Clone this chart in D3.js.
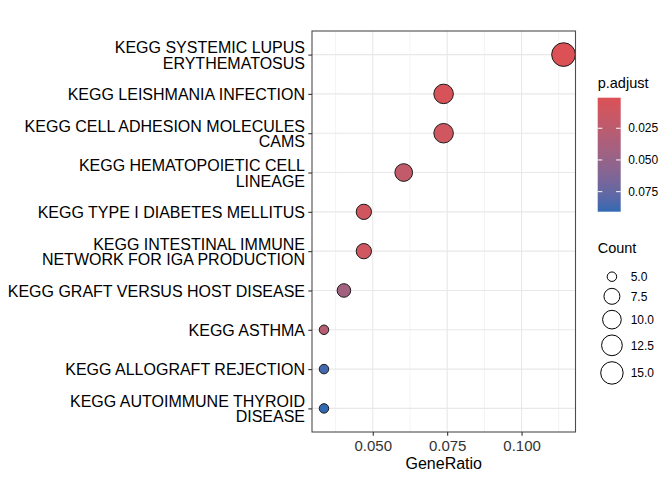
<!DOCTYPE html>
<html>
<head>
<meta charset="utf-8">
<script src="https://cdn.jsdelivr.net/npm/d3@7"></script>
<style>
  body { margin: 0; background: #fff; }
  svg { font-family: "Liberation Sans", Arial, sans-serif; }
</style>
</head>
<body>
<svg id="chart" width="672" height="480"></svg>
<script>
// pathway labels, top to bottom ("\n" = line break in the label)
const pathways = [
  "KEGG SYSTEMIC LUPUS\nERYTHEMATOSUS",
  "KEGG LEISHMANIA INFECTION",
  "KEGG CELL ADHESION MOLECULES\nCAMS",
  "KEGG HEMATOPOIETIC CELL\nLINEAGE",
  "KEGG TYPE I DIABETES MELLITUS",
  "KEGG INTESTINAL IMMUNE\nNETWORK FOR IGA PRODUCTION",
  "KEGG GRAFT VERSUS HOST DISEASE",
  "KEGG ASTHMA",
  "KEGG ALLOGRAFT REJECTION",
  "KEGG AUTOIMMUNE THYROID\nDISEASE"
];
const geneRatio = [0.1141, 0.0738, 0.0738, 0.0604, 0.0470, 0.0470, 0.0403, 0.0336, 0.0336, 0.0336];
const counts = [17, 11, 11, 9, 7, 7, 6, 5, 5, 5];
const pAdjust = [0.0009, 0.004, 0.010, 0.020, 0.009, 0.010, 0.042, 0.028, 0.087, 0.0908];

const xTicks = [0.050, 0.075, 0.100];
const colorTicks = [0.025, 0.050, 0.075];
const sizeBreaks = [5.0, 7.5, 10.0, 12.5, 15.0];

const width = 672;
const height = 480;
const panel = { left: 312, right: 575.5, top: 31, bottom: 432 };
const lowColor = "#dc5156";
const highColor = "#3169b3";

const data = pathways.map((p, i) => ({
  label: p, ratio: geneRatio[i], count: counts[i], p: pAdjust[i]
}));

const svg = d3.select("#chart");

// scales (5% expansion on x like ggplot)
const xExt = d3.extent(geneRatio);
const xPad = (xExt[1] - xExt[0]) * 0.05;
const xScale = d3.scaleLinear()
  .domain([xExt[0] - xPad, xExt[1] + xPad])
  .range([panel.left, panel.right]);
const yScale = d3.scalePoint()
  .domain(pathways)
  .range([panel.top, panel.bottom])
  .padding(0.6);
const color = d3.scaleLinear()
  .domain(d3.extent(pAdjust))
  .range([lowColor, highColor])
  .interpolate(d3.interpolateLab);
// area-style size scale: size = 3 + sqrt(rescaled) * 5, then ggplot pt -> px radius
const countExt = d3.extent(counts);
const rescale = d3.scaleLinear().domain(countExt).range([0, 1]);
const sizeScale = d3.scaleSqrt().domain([0, 1]).range([3, 8]);
const radius = c => (sizeScale(rescale(c)) * 2.845 + 0.945) * (96 / 72) * 0.375;

// grid
const grid = svg.append("g");
const step = xTicks[1] - xTicks[0];
const minor = [xTicks[0] - step / 2].concat(xTicks.map(t => t + step / 2))
  .filter(v => v > xScale.domain()[0] && v < xScale.domain()[1]);
grid.selectAll(".minor").data(minor).join("line")
  .attr("x1", d => xScale(d)).attr("x2", d => xScale(d))
  .attr("y1", panel.top).attr("y2", panel.bottom)
  .attr("stroke", "#f0f0f0").attr("stroke-width", 0.8);
grid.selectAll(".majx").data(xTicks).join("line")
  .attr("x1", d => xScale(d)).attr("x2", d => xScale(d))
  .attr("y1", panel.top).attr("y2", panel.bottom)
  .attr("stroke", "#e8e8e8").attr("stroke-width", 1.1);
grid.selectAll(".majy").data(pathways).join("line")
  .attr("x1", panel.left).attr("x2", panel.right)
  .attr("y1", d => yScale(d)).attr("y2", d => yScale(d))
  .attr("stroke", "#e8e8e8").attr("stroke-width", 1.1);

// points
svg.append("g").selectAll("circle").data(data).join("circle")
  .attr("cx", d => xScale(d.ratio))
  .attr("cy", d => yScale(d.label))
  .attr("r", d => radius(d.count))
  .attr("fill", d => color(d.p))
  .attr("stroke", "#1a1a1a")
  .attr("stroke-width", 1);

// panel border
svg.append("rect")
  .attr("x", panel.left).attr("y", panel.top)
  .attr("width", panel.right - panel.left).attr("height", panel.bottom - panel.top)
  .attr("fill", "none").attr("stroke", "#4d4d4d").attr("stroke-width", 1.1);

// x axis
const xAxis = d3.axisBottom(xScale).tickValues(xTicks).tickFormat(d3.format(".3f"))
  .tickSize(3.7).tickPadding(3);
const gx = svg.append("g").attr("transform", `translate(0,${panel.bottom})`).call(xAxis);
gx.select(".domain").remove();
gx.selectAll(".tick line").attr("stroke", "#333").attr("stroke-width", 1.1);
gx.selectAll(".tick text").attr("font-size", 15).attr("fill", "#333")
  .attr("font-family", "Liberation Sans, Arial, sans-serif")
  .attr("dy", null).attr("y", 18.7);

// y axis with multi-line labels
const yAxis = d3.axisLeft(yScale).tickSize(3.7).tickFormat("");
const gy = svg.append("g").attr("transform", `translate(${panel.left},0)`).call(yAxis);
gy.select(".domain").remove();
gy.selectAll(".tick line").attr("stroke", "#333").attr("stroke-width", 1.1);
const lineH = 15.7;
gy.selectAll(".tick").each(function(d) {
  const lines = d.split("\n");
  const t = d3.select(this).select("text")
    .attr("x", -7).attr("dy", null).attr("y", 0)
    .attr("font-size", 16).attr("fill", "#000")
    .attr("font-family", "Liberation Sans, Arial, sans-serif")
    .attr("text-anchor", "end");
  lines.forEach((ln, i) => {
    t.append("tspan").attr("x", -7)
      .attr("y", (i - (lines.length - 1) / 2) * lineH + 5.7)
      .text(ln);
  });
});

// x title
svg.append("text")
  .attr("x", (panel.left + panel.right) / 2).attr("y", 469.3)
  .attr("text-anchor", "middle").attr("font-size", 16).attr("fill", "#000")
  .text("GeneRatio");

// colour legend
const legX = 597.7;
const bar = { top: 97.7, bottom: 211.7, w: 23 };
svg.append("text").attr("x", legX).attr("y", 88.3)
  .attr("font-size", 14.5).attr("fill", "#000").text("p.adjust");
const defs = svg.append("defs");
const grad = defs.append("linearGradient").attr("id", "pgrad")
  .attr("x1", 0).attr("y1", 0).attr("x2", 0).attr("y2", 1);
const cDom = color.domain();
d3.range(0, 1.0001, 0.05).forEach(f => {
  grad.append("stop").attr("offset", f)
    .attr("stop-color", color(cDom[0] + f * (cDom[1] - cDom[0])));
});
svg.append("rect").attr("x", legX).attr("y", bar.top)
  .attr("width", bar.w).attr("height", bar.bottom - bar.top)
  .attr("fill", "url(#pgrad)");
const cbScale = d3.scaleLinear().domain(cDom).range([bar.top, bar.bottom]);
const cb = svg.append("g").selectAll("g").data(colorTicks).join("g")
  .attr("transform", d => `translate(0,${cbScale(d)})`);
cb.append("line").attr("x1", legX).attr("x2", legX + bar.w / 5)
  .attr("stroke", "#fff").attr("stroke-width", 1);
cb.append("line").attr("x1", legX + bar.w * 4 / 5).attr("x2", legX + bar.w)
  .attr("stroke", "#fff").attr("stroke-width", 1);
cb.append("text").attr("x", legX + bar.w + 7.5).attr("y", 4.2)
  .attr("font-size", 12).attr("fill", "#000").text(d3.format(".3f"));

// size legend
svg.append("text").attr("x", legX).attr("y", 253)
  .attr("font-size", 14.5).attr("fill", "#000").text("Count");
const keyW = Math.max(17.28, 2 * radius(sizeBreaks[sizeBreaks.length - 1]) + 6);
let yc = 276.7 - Math.max(17.28, 2 * radius(sizeBreaks[0]) + 6) / 2;
const keys = sizeBreaks.map(b => {
  const h = Math.max(17.28, 2 * radius(b) + 6);
  const k = { b, cy: yc + h / 2 };
  yc += h;
  return k;
});
const sk = svg.append("g").selectAll("g").data(keys).join("g")
  .attr("transform", d => `translate(${legX + keyW / 2},${d.cy})`);
sk.append("circle").attr("r", d => radius(d.b))
  .attr("fill", "none").attr("stroke", "#000").attr("stroke-width", 1);
sk.append("text").attr("x", keyW / 2 + 4.5).attr("y", 4.2)
  .attr("font-size", 12).attr("fill", "#000").text(d => d3.format(".1f")(d.b));
</script>
</body>
</html>
